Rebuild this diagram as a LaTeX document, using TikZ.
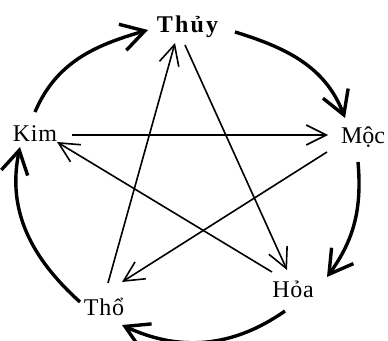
\documentclass[tikz,border=0pt]{standalone}
\usepackage{fontspec}
\setmainfont{Liberation Serif}
\usetikzlibrary{arrows.meta}

\begin{document}
\begin{tikzpicture}[
          x=1pt,y=1pt,
          elem/.style={
            inner sep=0pt,
            anchor=base,
            font=\fontsize{24}{26}\selectfont\addfontfeature{LetterSpace=3}
          },
          sinh/.style={-{Straight Barb[length=23pt,width=27pt]},line width=3.4pt},
          khac/.style={-{Straight Barb[length=20pt,width=20pt]},line width=1.6pt}
        ]
        \useasboundingbox (0,0) rectangle (388,340);
        \node[elem,font=\fontsize{24}{26}\selectfont\bfseries\addfontfeature{LetterSpace=9}] (thuy) at (187.5,307) {Thủy};
        \node[elem] (kim) at (35,198) {Kim};
        \node[elem,font=\fontsize{24}{26}\selectfont] (moc) at (363,196) {Mộc};
        \node[elem] (hoa) at (293,42) {Hỏa};
        \node[elem] (tho) at (104,25) {Thổ};
        % outer cycle
        \draw[sinh] ([shift={(0,30)}]kim.base) to[out=67,in=196] ([shift={(-39.5,3)}]thuy.base);
        \draw[sinh] ([shift={(47.5,1)}]thuy.base) to[out=-17,in=111] ([shift={(-18,26)}]moc.base);
        \draw[sinh] ([shift={(-5,-18)}]moc.base) to[out=-85,in=54] ([shift={(34,21)}]hoa.base);
        \draw[sinh] ([shift={(-8,-13)}]hoa.base) to[out=215,in=335] ([shift={(18,-10)}]tho.base);
        \draw[sinh] ([shift={(-24,13)}]tho.base) to[out=138,in=258] ([shift={(-15,-5)}]kim.base);
        % inner star
        \draw[khac] ([shift={(37,7)}]kim.base) -- ([shift={(-35,9)}]moc.base);
        \draw[khac] ([shift={(-36,-8)}]moc.base) -- ([shift={(18,33)}]tho.base);
        \draw[khac] ([shift={(4,32)}]tho.base) -- ([shift={(-12.5,-10)}]thuy.base);
        \draw[khac] ([shift={(-2.5,-12)}]thuy.base) -- ([shift={(-6,28)}]hoa.base);
        \draw[khac] ([shift={(-21,26)}]hoa.base) -- ([shift={(22,0)}]kim.base);
      \end{tikzpicture}
\end{document}
